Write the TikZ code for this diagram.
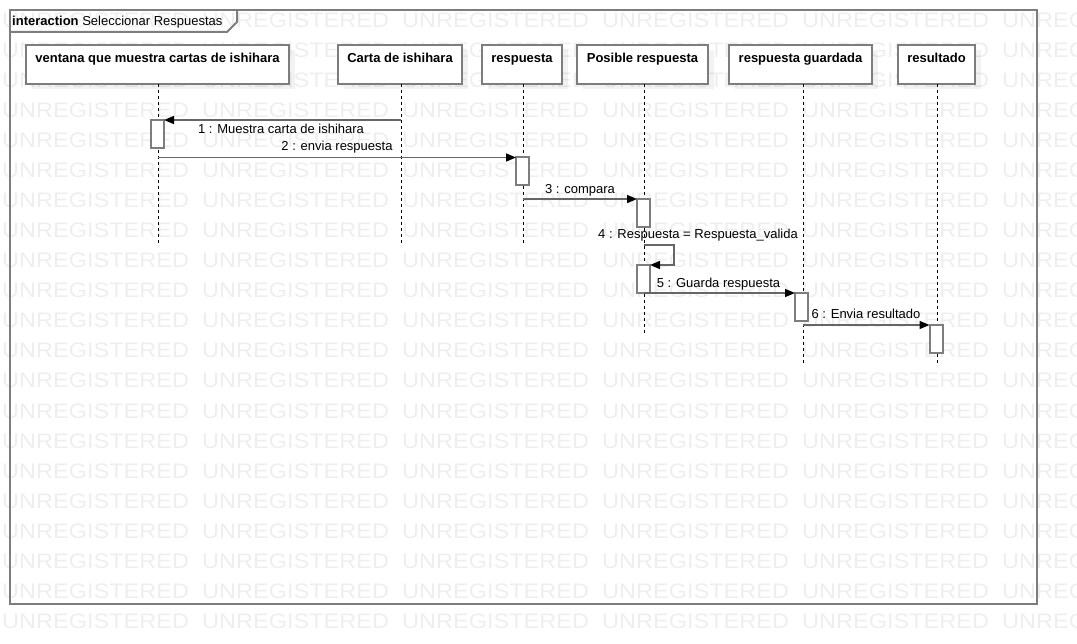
\documentclass[tikz,border=0pt]{standalone}
\usepackage{fontspec}
\setmainfont{Liberation Sans}
\newfontfamily\wmfont[FakeStretch=1.12]{Liberation Sans}
\usetikzlibrary{arrows.meta,shadows}

\newlength{\du}
\setlength{\du}{1pt}

\definecolor{dialinecolor}{rgb}{0.000000, 0.000000, 0.000000}
\definecolor{framecolor}{rgb}{0.490000, 0.490000, 0.490000}
\definecolor{msgcolor}{rgb}{0.400000, 0.400000, 0.400000}
\definecolor{wmcolor}{rgb}{0.935000, 0.935000, 0.935000}

\tikzset{
  sdframe/.style={draw=framecolor, line width=2\du, inner sep=0, outer sep=0},
  lifehead/.style={draw=framecolor, fill=white, line width=2\du, minimum height=39\du,
    inner sep=0, outer sep=0,
    drop shadow={shadow xshift=6\du, shadow yshift=-5\du, opacity=0.05, fill=black}},
  headlabel/.style={inner sep=0, text height=9.5\du, text depth=2.7\du,
    font=\bfseries\fontsize{13}{15}\selectfont},
  lifeline/.style={draw=dialinecolor, line width=1\du, dash pattern=on 3\du off 3\du},
  activation/.style={draw=framecolor, fill=white, line width=2\du, minimum width=13\du,
    minimum height=28\du, inner sep=0, outer sep=0},
  msg/.style={draw=msgcolor, line width=1.6\du,
    -{Triangle[length=10pt, width=8pt, color=dialinecolor]}},
  msglabel/.style={inner sep=0, text height=9.5\du, text depth=2.7\du,
    font=\fontsize{13}{15}\selectfont},
  watermark/.style={anchor=base west, inner sep=0, text=wmcolor,
    font=\wmfont\fontsize{21}{21}\selectfont}
}

\begin{document}
\begin{tikzpicture}[x=1\du, y=-1\du]
\useasboundingbox (0,0) rectangle (1077,644);
% watermark
\foreach \r in {0,...,20}{
  \foreach \c in {0,...,5}{
    \node[watermark] (wm-\r-\c) at (2+200*\c, 28+30*\r) {UNREGISTERED};
  }
}
% interaction frame
\node[sdframe, minimum width=1027\du, minimum height=594\du, anchor=north west] (frame) at (10,10) {};
\node[msglabel, anchor=west] (tab) at (12,22.6) {\textbf{interaction} Seleccionar Respuestas};
\draw[sdframe] (10,32) -- (227,32) -- (237,22) -- (237,10);
% lifeline heads
\node[lifehead, minimum width=263\du] (ventana) at (157.5,64.5) {};
\node[headlabel] (ventana-t) at (157.5,59.3) {ventana que muestra cartas de ishihara};
\node[lifehead, minimum width=124\du] (carta) at (400,64.5) {};
\node[headlabel] (carta-t) at (400,59.3) {Carta de ishihara};
\node[lifehead, minimum width=80\du] (resp) at (522,64.5) {};
\node[headlabel] (resp-t) at (522,59.3) {respuesta};
\node[lifehead, minimum width=131\du] (posible) at (642.5,64.5) {};
\node[headlabel] (posible-t) at (642.5,59.3) {Posible respuesta};
\node[lifehead, minimum width=143\du] (guardada) at (800.5,64.5) {};
\node[headlabel] (guardada-t) at (800.5,59.3) {respuesta guardada};
\node[lifehead, minimum width=77\du] (resultado) at (936.5,64.5) {};
\node[headlabel] (resultado-t) at (936.5,59.3) {resultado};
% lifelines
\coordinate (ventana-end) at (158,243);
\coordinate (carta-end) at (401,243);
\coordinate (resp-end) at (523,243);
\coordinate (posible-end) at (644,333);
\coordinate (guardada-end) at (803,363);
\coordinate (resultado-end) at (937,363);
\foreach \l in {ventana,carta,resp,posible,guardada,resultado}{
  \draw[lifeline] (\l-end |- \l.south) -- (\l-end);
}
% activations
\node[activation] (act1) at (157.5,134) {};
\node[activation] (act2) at (522.5,171.5) {};
\node[activation] (act3) at (643.5,213) {};
\node[activation] (act4) at (643.5,279) {};
\node[activation] (act5) at (801.5,307) {};
\node[activation] (act6) at (936,339) {};
% messages
\coordinate (self4) at (644,245);
\draw[msg] (act1.north east -| carta-end) -- (act1.north east);
\draw[msg] (act2.north west -| ventana-end) -- (act2.north west);
\draw[msg] (act3.north west -| resp-end) -- (act3.north west);
\draw[msg] (self4) -- ++(30,0) |- (act4.north east);
\draw[msg] (act5.north west -| posible-end) -- (act5.north west);
\draw[msg] (act6.north west -| guardada-end) -- (act6.north west);
% message labels
\node[msglabel] (m1) at (281,130) {1 : Muestra carta de ishihara};
\node[msglabel] (m2) at (337,147.6) {2 : envia respuesta};
\node[msglabel] (m3) at (580,190) {3 : compara};
\node[msglabel] (m4) at (698,235.6) {4 : Respuesta = Respuesta\_valida};
\node[msglabel] (m5) at (718.5,284) {5 : Guarda respuesta};
\node[msglabel] (m6) at (866,315.6) {6 : Envia resultado};
\end{tikzpicture}
\end{document}
